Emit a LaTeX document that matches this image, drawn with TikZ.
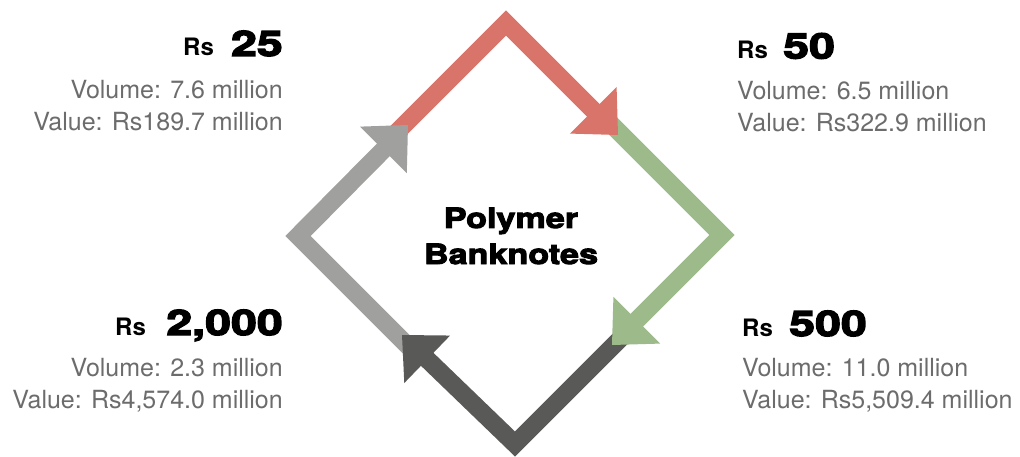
\documentclass[tikz,border=0pt]{standalone}
\usepackage{fontspec}
\setmainfont{TeX Gyre Heros}
\newfontfamily\heavyfont{TeX Gyre Heros}[BoldFeatures={FakeBold=3.5,FakeStretch=1.22}]
\newfontfamily\heavynum{TeX Gyre Heros}[BoldFeatures={FakeBold=4,FakeStretch=1.33}]
\usetikzlibrary{calc}
\definecolor{cred}{RGB}{217,116,106}
\definecolor{cgreen}{RGB}{157,186,138}
\definecolor{cgray}{RGB}{160,160,158}
\definecolor{cdark}{RGB}{89,89,87}
\definecolor{ctext}{RGB}{108,108,108}
\begin{document}
\begin{tikzpicture}[x=1pt,y=-1pt,
  shaft/.style={line width=18pt, line join=miter},
  rs/.style={font=\fontsize{24}{28}\selectfont\bfseries, inner sep=0pt},
  num/.style={font=\fontsize{35}{38}\selectfont\heavynum\bfseries, inner sep=0pt},
  info/.style={font=\fontsize{25}{28}\selectfont, text=ctext, inner sep=0pt},
  ctrtext/.style={font=\fontsize{28}{34}\selectfont\heavyfont\bfseries, inner sep=0pt}]
\useasboundingbox (0,0) rectangle (1020,457);
% vertices and tips
\coordinate (T) at (506,23);
\coordinate (R) at (722,235);
\coordinate (B) at (515,444);
\coordinate (L) at (298,236);
\coordinate (redS) at (395,134);
\coordinate (redE) at (618,135);
\coordinate (grnS) at (607,120);
\coordinate (grnE) at (612,345);
\coordinate (drkS) at (626,333);
\coordinate (drkE) at (402,335);
\coordinate (gryS) at (412,350);
\coordinate (gryE) at (408,125);
% arrowhead bases
\coordinate (redB) at ($(redE)!35pt!(T)$);
\coordinate (grnB) at ($(grnE)!35pt!(R)$);
\coordinate (drkB) at ($(drkE)!35pt!(B)$);
\coordinate (gryB) at ($(gryE)!35pt!(L)$);
% shafts
\draw[shaft,cred] (redS) -- (T) -- ($(redE)!30pt!(T)$);
\draw[shaft,cgreen] (grnS) -- (R) -- ($(grnE)!30pt!(R)$);
\draw[shaft,cdark] (drkS) -- (B) -- ($(drkE)!30pt!(B)$);
\draw[shaft,cgray] (gryS) -- (L) -- ($(gryE)!30pt!(L)$);
% heads
\fill[cred] (redE) -- ($(redB)!33pt!90:(redE)$) -- ($(redB)!33pt!-90:(redE)$) -- cycle;
\fill[cgreen] (grnE) -- ($(grnB)!33pt!90:(grnE)$) -- ($(grnB)!33pt!-90:(grnE)$) -- cycle;
\fill[cdark] (drkE) -- ($(drkB)!33pt!90:(drkE)$) -- ($(drkB)!33pt!-90:(drkE)$) -- cycle;
\fill[cgray] (gryE) -- ($(gryB)!33pt!90:(gryE)$) -- ($(gryB)!33pt!-90:(gryE)$) -- cycle;
% centre
\node[ctrtext, anchor=base] (ctr1) at (511,228) {Polymer};
\node[ctrtext, anchor=base] (ctr2) at (511,264) {Banknotes};
% top-left
\node[rs, anchor=base west] (tlrs) at (183,56) {Rs};
\node[num, anchor=base east] (tlnum) at (283,56) {25};
\node[info, anchor=base east] (tlvol) at (283,99) {Volume: 7.6 million};
\node[info, anchor=base east] (tlval) at (283,131) {Value: Rs189.7 million};
% top-right
\node[rs, anchor=base west] (trrs) at (737,58.5) {Rs};
\node[num, anchor=base west] (trnum) at (783,58.5) {50};
\node[info, anchor=base west] (trvol) at (737,100) {Volume: 6.5 million};
\node[info, anchor=base west] (trval) at (737,132) {Value: Rs322.9 million};
% bottom-left
\node[rs, anchor=base west] (blrs) at (115,335) {Rs};
\node[num, anchor=base east] (blnum) at (283,335) {2,000};
\node[info, anchor=base east] (blvol) at (283,376) {Volume: 2.3 million};
\node[info, anchor=base east] (blval) at (283,408) {Value: Rs4,574.0 million};
% bottom-right
\node[rs, anchor=base west] (brrs) at (742,336) {Rs};
\node[num, anchor=base west] (brnum) at (789,336) {500};
\node[info, anchor=base west] (brvol) at (742,376) {Volume: 11.0 million};
\node[info, anchor=base west] (brval) at (742,408) {Value: Rs5,509.4 million};
\end{tikzpicture}
\end{document}
